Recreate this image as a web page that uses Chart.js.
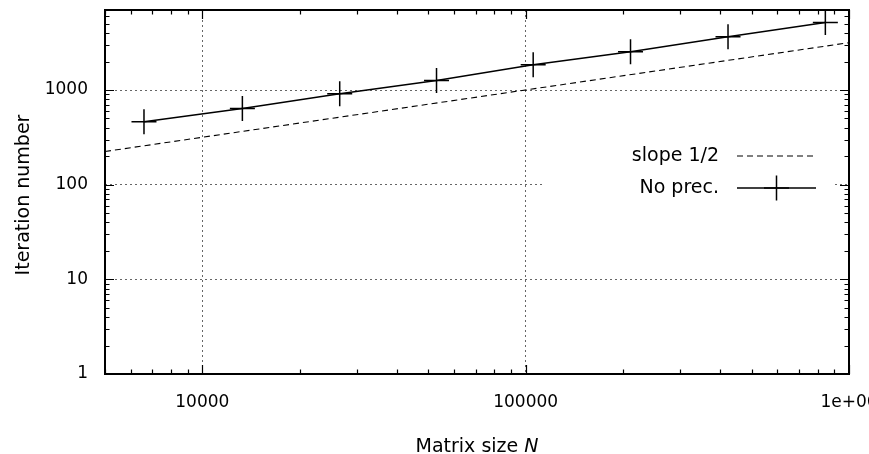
<!DOCTYPE html>
<html>
<head>
<meta charset="utf-8">
<script src="https://cdn.jsdelivr.net/npm/chart.js@4.4.1/dist/chart.umd.min.js"></script>
<style>
    html, body { margin: 0; padding: 0; background: #fff; }
</style>
</head>
<body>
<canvas id="iterChart" width="869" height="454"></canvas>
<script>
// Matrix sizes N and iteration counts (no preconditioner)
const matrixSizes = [6600, 13300, 26600, 53000, 105500, 211000, 422500, 845000];
const iterNoPrec = [462, 639, 912, 1263, 1845, 2531, 3647, 5176];

// Reference line of slope 1/2 (end points)
const slopeX = [5000, 1000000];
const slopeY = [224, 3162];

const seriesLabels = ['slope 1/2', 'No prec.'];

// Axis ranges and labelled ticks
const xRange = [5000, 1000000];
const yRange = [1, 7000];
const xTicks = [10000, 100000, 1000000];
const xTickLabels = ['10000', '100000', '1e+06'];
const yTicks = [1, 10, 100, 1000];
const yTickLabels = ['1', '10', '100', '1000'];

const FONT = '"DejaVu Sans", sans-serif';

/**
 * All k*10^e values inside [min, max], used for the small inward ticks
 */
function logTickValues(min, max) {
    const out = [];
    for (let e = Math.floor(Math.log10(min)); e <= Math.ceil(Math.log10(max)); e++) {
        for (let k = 1; k < 10; k++) {
            const v = k * Math.pow(10, e);
            if (v >= min * 0.9999 && v <= max * 1.0001) {
                out.push({ v: v, major: k === 1 });
            }
        }
    }
    return out;
}

/**
 * gnuplot style frame, mirrored ticks, key and axis titles
 */
const gnuplotPlugin = {
    id: 'gnuplotLook',
    beforeDatasetsDraw(chart) {
        // the key box hides the grid behind it
        const { ctx, chartArea: a } = chart;
        ctx.save();
        ctx.fillStyle = '#fff';
        ctx.fillRect(a.left + 438, a.top + 128, (a.right - 16) - (a.left + 438), 66);
        ctx.restore();
    },
    afterDatasetsDraw(chart) {
        const { ctx, chartArea: a, scales: { x, y } } = chart;
        ctx.save();
        ctx.strokeStyle = '#000';
        ctx.lineWidth = 1.2;
        ctx.beginPath();
        logTickValues(x.min, x.max).forEach(t => {
            const px = Math.round(x.getPixelForValue(t.v)) + 0.5;
            const len = t.major ? 9 : 4.5;
            ctx.moveTo(px, a.bottom);
            ctx.lineTo(px, a.bottom - len);
            ctx.moveTo(px, a.top);
            ctx.lineTo(px, a.top + len);
        });
        logTickValues(y.min, y.max).forEach(t => {
            const py = Math.round(y.getPixelForValue(t.v)) + 0.5;
            const len = t.major ? 9 : 4.5;
            ctx.moveTo(a.left, py);
            ctx.lineTo(a.left + len, py);
            ctx.moveTo(a.right, py);
            ctx.lineTo(a.right - len, py);
        });
        ctx.stroke();

        // border
        ctx.lineWidth = 2;
        ctx.strokeRect(a.left, a.top, a.right - a.left, a.bottom - a.top);

        // key
        const textX = a.right - 130;
        const sx1 = a.right - 112;
        const sx2 = a.right - 33;
        const rows = [a.top + 146, a.top + 178];
        ctx.fillStyle = '#000';
        ctx.font = '19px ' + FONT;
        ctx.textAlign = 'right';
        ctx.textBaseline = 'middle';
        chart.data.datasets.forEach((ds, i) => {
            const ry = rows[i];
            ctx.fillText(ds.label, textX, ry);
            ctx.save();
            ctx.lineWidth = ds.borderWidth;
            ctx.setLineDash(ds.borderDash || []);
            ctx.beginPath();
            ctx.moveTo(sx1, ry);
            ctx.lineTo(sx2, ry);
            ctx.stroke();
            if (ds.pointStyle === 'cross') {
                const cx = (sx1 + sx2) / 2;
                const r = ds.pointRadius;
                ctx.setLineDash([]);
                ctx.lineWidth = ds.pointBorderWidth;
                ctx.beginPath();
                ctx.moveTo(cx, ry - r);
                ctx.lineTo(cx, ry + r);
                ctx.moveTo(cx - r, ry);
                ctx.lineTo(cx + r, ry);
                ctx.stroke();
            }
            ctx.restore();
        });
        ctx.restore();
    },
    afterDraw(chart) {
        const { ctx, chartArea: a } = chart;
        ctx.save();
        ctx.fillStyle = '#000';
        ctx.textBaseline = 'alphabetic';

        // x title, with italic N
        const plain = 'Matrix size ';
        const ital = 'N';
        ctx.font = '19px ' + FONT;
        const w1 = ctx.measureText(plain).width;
        ctx.font = 'italic 19px ' + FONT;
        const w2 = ctx.measureText(ital).width;
        const startX = (a.left + a.right) / 2 - (w1 + w2) / 2;
        const baseY = a.bottom + 77.5;
        ctx.textAlign = 'left';
        ctx.font = '19px ' + FONT;
        ctx.fillText(plain, startX, baseY);
        ctx.font = 'italic 19px ' + FONT;
        ctx.fillText(ital, startX + w1, baseY);

        // y title
        ctx.font = '19px ' + FONT;
        ctx.translate(28.5, (a.top + a.bottom) / 2 + 3);
        ctx.rotate(-Math.PI / 2);
        ctx.textAlign = 'center';
        ctx.fillText('Iteration number', 0, 0);
        ctx.restore();
    }
};

const gridStyle = {
    display: true,
    drawTicks: false,
    color: 'rgba(0, 0, 0, 0.6)',
    lineWidth: 1
};

new Chart(document.getElementById('iterChart'), {
    type: 'line',
    data: {
        datasets: [
            {
                label: seriesLabels[0],
                data: slopeX.map((v, i) => ({ x: v, y: slopeY[i] })),
                borderColor: '#000',
                borderWidth: 1.1,
                borderDash: [6, 4],
                pointRadius: 0,
                fill: false,
                clip: false
            },
            {
                label: seriesLabels[1],
                data: matrixSizes.map((v, i) => ({ x: v, y: iterNoPrec[i] })),
                borderColor: '#000',
                borderWidth: 1.5,
                pointStyle: 'cross',
                pointRadius: 12.5,
                pointBorderWidth: 1.5,
                pointBorderColor: '#000',
                pointBackgroundColor: '#000',
                fill: false,
                clip: false
            }
        ]
    },
    options: {
        responsive: false,
        animation: false,
        devicePixelRatio: 1,
        layout: {
            autoPadding: false,
            padding: { left: 0, right: 20, top: 10, bottom: 0 }
        },
        plugins: {
            legend: { display: false },
            tooltip: { enabled: false }
        },
        scales: {
            x: {
                type: 'logarithmic',
                min: xRange[0],
                max: xRange[1],
                grid: gridStyle,
                border: { display: false, dash: [2, 3] },
                afterBuildTicks: scale => {
                    scale.ticks = xTicks.map(v => ({ value: v, major: true }));
                },
                afterFit: scale => {
                    scale.height = 80;
                    scale.paddingLeft = 0;
                    scale.paddingRight = 0;
                },
                ticks: {
                    autoSkip: false,
                    maxRotation: 0,
                    padding: 18,
                    color: '#000',
                    font: { family: FONT, size: 17 },
                    callback: (value, index) => xTickLabels[index]
                }
            },
            y: {
                type: 'logarithmic',
                min: yRange[0],
                max: yRange[1],
                grid: gridStyle,
                border: { display: false, dash: [2, 3] },
                afterBuildTicks: scale => {
                    scale.ticks = yTicks.map(v => ({ value: v, major: true }));
                },
                afterFit: scale => {
                    scale.width = 105;
                    scale.paddingTop = 0;
                    scale.paddingBottom = 0;
                },
                ticks: {
                    autoSkip: false,
                    padding: 17,
                    color: '#000',
                    font: { family: FONT, size: 17 },
                    callback: (value, index) => yTickLabels[index]
                }
            }
        }
    },
    plugins: [gnuplotPlugin]
});
</script>
</body>
</html>
